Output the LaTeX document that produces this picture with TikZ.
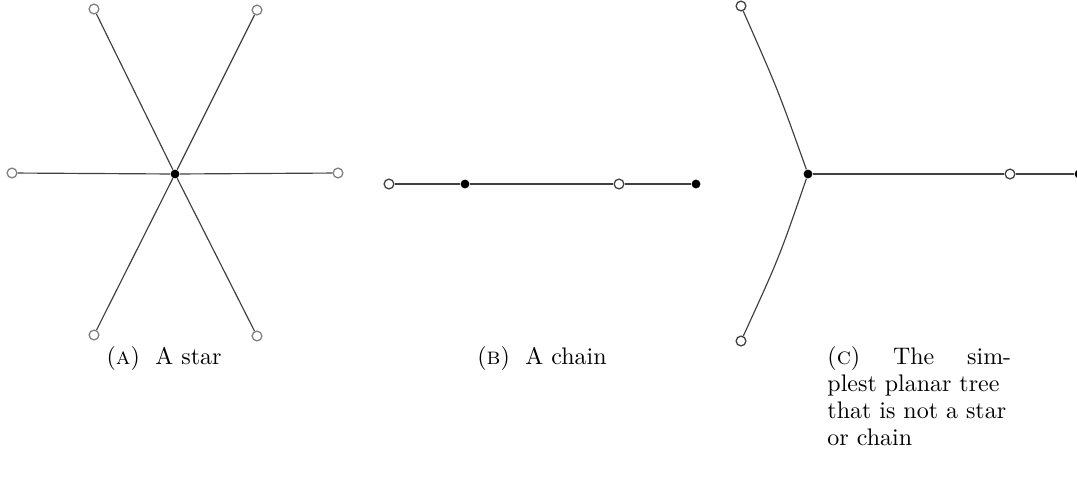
\documentclass[tikz,border=0pt]{standalone}
\usetikzlibrary{positioning}
\tikzset{
  every node/.style={font=\fontsize{10.3}{11.6}\selectfont},
  leaf/.style={circle,draw=gray,line width=0.55pt,fill=white,inner sep=0pt,minimum size=4.2pt},
  leafdark/.style={leaf,draw=black!75},
  hub/.style={circle,fill=black,inner sep=0pt,minimum size=3.8pt},
  edge/.style={draw=black!75,line width=0.5pt},
  caption/.style={anchor=north,align=center,inner sep=0pt}
}
\newcommand{\sublabel}[1]{(\textsc{#1})\hspace{0.65em}}

\begin{document}
\begin{tikzpicture}[x=0.43pt,y=-0.43pt]
  \useasboundingbox (0,0) rectangle (1077,486);

  % (a) star
  \node[hub] (s0) at (175,174) {};
  \node[leaf] (s1) at (94,9) {};
  \node[leaf] (s2) at (257,10) {};
  \node[leaf] (s3) at (12,173) {};
  \node[leaf] (s4) at (338,173) {};
  \node[leaf] (s5) at (94,335) {};
  \node[leaf] (s6) at (257,336) {};
  \foreach \n in {s1,s2,s3,s4,s5,s6}
    \draw[edge] (s0) -- (\n);
  \node[caption] (capa) at (164,346) {\sublabel{a}A star};

  % (b) chain
  \node[leafdark] (c1) at (389,184) {};
  \node[hub] (c2) at (465,184) {};
  \node[leafdark] (c3) at (619,184) {};
  \node[hub] (c4) at (696,184) {};
  \draw[edge] (c1) -- (c2) -- (c3) -- (c4);
  \node[caption] (capb) at (542,346) {\sublabel{b}A chain};

  % (c) simplest other tree
  \node[hub] (t0) at (808,174) {};
  \node[leafdark] (t1) at (741,6) {};
  \node[leafdark] (t2) at (741,341) {};
  \node[leafdark] (t3) at (1010,174) {};
  \node[hub] (t4) at (1079,174) {};
  \draw[edge] (t0) .. controls (778,90) .. (t1);
  \draw[edge] (t0) .. controls (779,258) .. (t2);
  \draw[edge] (t0) -- (t3) -- (t4);
  \node[anchor=north west,inner sep=0pt,text width=79pt,align=left] (capc) at (827,346)
    {(\textsc{c})\hfill The\hfill sim-\\plest planar tree\\that is not a star\\or chain};
\end{tikzpicture}
\end{document}
